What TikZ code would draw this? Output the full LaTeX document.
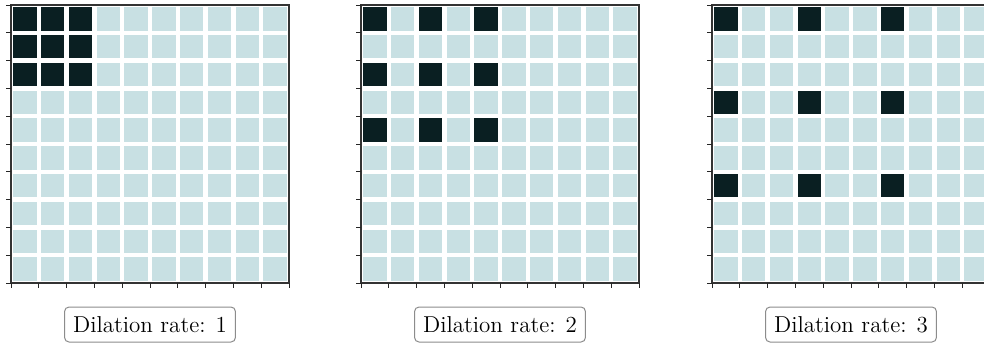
\documentclass[tikz,border=0pt]{standalone}
\definecolor{cellLight}{RGB}{200,224,227}
\definecolor{cellDark}{RGB}{10,31,34}
\begin{document}
\begin{tikzpicture}[x=0.5pt,y=-0.5pt,
  frame/.style={draw=black!80,line width=0.65pt},
  tickline/.style={draw=black!85,line width=0.5pt},
  ratelabel/.style={draw=black!45,rounded corners=2.2pt,line width=0.5pt,fill=white,
    inner xsep=4.3pt,inner ysep=0pt,minimum height=17.5pt,
    font=\fontsize{11.5}{14}\selectfont}]
\useasboundingbox (0,0) rectangle (984,343);
\clip (0,0) rectangle (984,343);
\def\cs{27.8}
\foreach \px/\r [count=\i] in {11/1,361/2,712/3} {
  \foreach \row in {0,...,9} {
    \foreach \col in {0,...,9} {
      \pgfmathtruncatemacro\isdark{and(and(mod(\row,\r)==0,\row<3*\r),and(mod(\col,\r)==0,\col<3*\r))}
      \ifnum\isdark>0
        \path[fill=cellDark] ({\px+\col*\cs+2.2},{5+\row*\cs+2.2}) rectangle ({\px+(\col+1)*\cs-2.2},{5+(\row+1)*\cs-2.2});
      \else
        \path[fill=cellLight] ({\px+\col*\cs+2.2},{5+\row*\cs+2.2}) rectangle ({\px+(\col+1)*\cs-2.2},{5+(\row+1)*\cs-2.2});
      \fi
    }
  }
  \draw[frame] (\px,5) rectangle ({\px+10*\cs},{5+10*\cs});
  \foreach \k in {0,...,10} {
    \draw[tickline] ({\px+\k*\cs},{5+10*\cs}) -- +(0,5);
    \draw[tickline] (\px,{5+\k*\cs}) -- +(-5,0);
  }
  \node[ratelabel] (lab\i) at ({\px+5*\cs},324.5) {Dilation rate: \r};
}
\end{tikzpicture}
\end{document}
